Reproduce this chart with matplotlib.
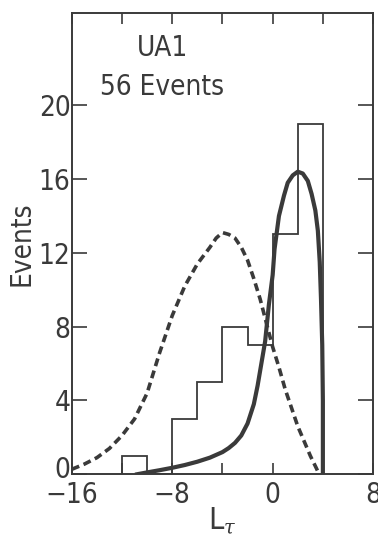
import matplotlib.pyplot as plt
import matplotlib.transforms as mtransforms
import numpy as np

# histogram of 56 events, bins 2 units wide
bin_edges = [-12, -10, -8, -6, -4, -2, 0, 2, 4]
bin_counts = [1, 0, 3, 5, 8, 7, 13, 19]

# solid curve
solid_x = [-10.8, -10, -9, -8, -7, -6, -5, -4, -3.5, -3, -2.5, -2, -1.5, -1.2, -1,
           -0.6, -0.3, 0, 0.15, 0.5, 0.9, 1.2, 1.6, 2.0, 2.4, 2.8, 3.1, 3.4, 3.6,
           3.75, 3.85, 3.95, 4.0, 4.0]
solid_y = [0, 0.1, 0.22, 0.35, 0.5, 0.68, 0.9, 1.2, 1.42, 1.7, 2.1, 2.75, 3.8, 4.8, 5.6,
           7.2, 9.2, 10.8, 12.2, 14.0, 15.1, 15.8, 16.2, 16.4, 16.3, 15.9, 15.2, 14.3, 13.2,
           11.5, 9.5, 7.0, 4.0, 0]

# dashed curve
dash_x = [-16, -15, -14, -13, -12, -11, -10, -9, -8, -7, -6, -5, -4.5, -4, -3.5, -3,
          -2.5, -2, -1.5, -1, -0.5, 0, 0.5, 1, 1.5, 2, 2.5, 3, 3.5, 3.7]
dash_y = [0.27, 0.55, 0.9, 1.4, 2.1, 3.0, 4.4, 6.6, 8.6, 10.2, 11.4, 12.3, 12.8, 13.1,
          13.0, 12.8, 12.3, 11.6, 10.6, 9.5, 8.2, 6.9, 5.8, 4.6, 3.6, 2.6, 1.8, 1.0, 0.3, 0.0]

ink = '#3a3a3a'
plt.rcParams['font.family'] = ['DejaVu Sans']
plt.rcParams['font.stretch'] = 'condensed'
plt.rcParams['mathtext.fontset'] = 'dejavuserif'

fig = plt.figure(figsize=(3.78, 5.42), dpi=100)
ax = fig.add_axes([0.19, 0.125, 0.797, 0.851])

ax.stairs(bin_counts, bin_edges, color=ink, lw=1.3)
ax.plot(solid_x, solid_y, color=ink, lw=3.0, solid_joinstyle='round')
ax.plot(dash_x, dash_y, color=ink, lw=2.6, dashes=(2.2, 1.3))

ax.set_xlim(-16, 8)
ax.set_ylim(0, 25)
ax.set_xticks(np.arange(-16, 9, 4))
ax.set_xticklabels(['\u221216', '', '\u22128', '', '0', '', '8'])
ax.set_yticks(np.arange(0, 21, 4))
ax.tick_params(direction='in', length=8, width=1.2, color=ink, labelcolor=ink,
               labelsize=20, top=True, right=True, pad=1)
ax.tick_params(axis='x', pad=5)
ax.tick_params(axis='y', length=11)
for s in ax.spines.values():
    s.set_linewidth(1.4)
    s.set_color(ink)

# nudge the "0" on the y axis up so it clears the -16 below it
lift = mtransforms.ScaledTranslation(0, 7 / 100, fig.dpi_scale_trans)
ylab0 = ax.get_yticklabels()[0]
ylab0.set_transform(ylab0.get_transform() + lift)

ax.set_ylabel('Events', fontsize=20, color=ink, labelpad=2)
ax.set_xlabel(r'L$_{\mathit{\tau}}$', fontsize=22, color=ink, labelpad=-3)

ax.text(0.30, 0.955, 'UA1', transform=ax.transAxes, ha='center', va='top',
        fontsize=20, color=ink)
ax.text(0.30, 0.87, '56 Events', transform=ax.transAxes, ha='center', va='top',
        fontsize=20, color=ink)

fig.savefig('out.png', dpi=100)
